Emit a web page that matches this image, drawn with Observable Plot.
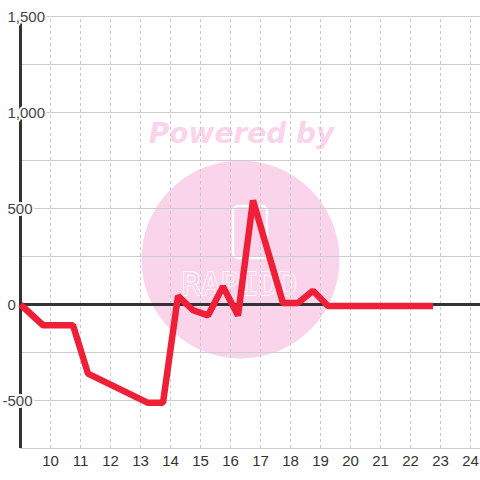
<!DOCTYPE html>
<html>
<head>
<meta charset="utf-8">
<script src="https://cdn.jsdelivr.net/npm/d3@7"></script>
<script src="https://cdn.jsdelivr.net/npm/@observablehq/plot@0.6"></script>
<style>
  html, body { margin: 0; padding: 0; background: #fff; }
  #chart { width: 480px; height: 480px; }
</style>
</head>
<body>
<div id="chart"></div>
<script>
// Data
const hours = [9, 9.75, 10.75, 11.25, 13.25, 13.75, 14.25, 14.75, 15.25, 15.75, 16.25, 16.75, 17.75, 18.25, 18.75, 19.25, 22.75];
const values = [0, -108, -108, -360, -512, -512, 45, -30, -57, 94, -58, 542, 8, 8, 72, -8, -8];
const xTicks = [10, 11, 12, 13, 14, 15, 16, 17, 18, 19, 20, 21, 22, 23, 24];
const yTicks = [-500, 0, 500, 1000, 1500];
const yTickLabels = ["-500", "0", "500", "1,000", "1,500"];
const yGrid = [-750, -500, -250, 0, 250, 500, 750, 1000, 1250, 1500];
const watermarkTitle = ["Powered by"];
const watermarkLogo = ["RAPIDD"];

const xMin = 9, xMax = 24.333;
const yMin = -750, yMax = 1500;

const data = hours.map((h, i) => ({h, v: values[i]}));
const yLab = yTicks.map((v, i) => ({v, label: yTickLabels[i]}));

const pink = "#fad4ea";
const font = "Liberation Sans, Arial, sans-serif";

const chart = Plot.plot({
  width: 480,
  height: 480,
  marginLeft: 20,
  marginRight: 0,
  marginTop: 16,
  marginBottom: 32,
  x: {domain: [xMin, xMax], axis: null},
  y: {domain: [yMin, yMax], axis: null},
  style: {fontFamily: font, background: "#fff", overflow: "visible"},
  marks: [
    // watermark
    Plot.dot([0], {frameAnchor: "middle", dx: -10, dy: 27, r: 99, fill: pink, stroke: "none"}),
    Plot.text(watermarkTitle, {frameAnchor: "middle", dx: -9, dy: -98, text: d => d, fill: pink,
      fontSize: 28, fontWeight: "bold", fontStyle: "italic", fontFamily: "DejaVu Sans, sans-serif"}),
    Plot.rect([0], {x1: () => 16.1, x2: () => 17.23, y1: () => 240, y2: () => 510,
      fill: "none", stroke: "#fff", strokeWidth: 2.5, rx: 5}),
    Plot.text(watermarkLogo, {frameAnchor: "middle", dx: -11, dy: 52, text: d => d, fill: pink,
      stroke: "#fff", strokeWidth: 1.6, fontSize: 32, fontWeight: 300, letterSpacing: "3px", fontFamily: "DejaVu Sans Mono, monospace"}),
    // grid
    Plot.ruleY(yGrid, {x1: xMin, x2: xMax, stroke: "#cccccc", strokeWidth: 1}),
    Plot.ruleX(xTicks, {y1: yMin, y2: yMax, stroke: "#c8c8c8", strokeWidth: 1, strokeDasharray: "3,3"}),
    // axis lines
    Plot.ruleY([0], {x1: xMin, x2: xMax, stroke: "#333", strokeWidth: 3}),
    Plot.ruleX([xMin], {y1: yMin, y2: yMax, stroke: "#333", strokeWidth: 3}),
    // series
    Plot.line(data, {x: "h", y: "v", stroke: "#ee1f36", strokeWidth: 6.5, strokeLinejoin: "miter", strokeLinecap: "butt"}),
    // y labels
    Plot.text(yLab.filter(d => d.v >= 0), {x: () => xMin, y: "v", text: "label", textAnchor: "start", dx: -13, dy: 1,
      fill: "#444", fontSize: 15, stroke: "#fff", strokeWidth: 4, fontFamily: font}),
    Plot.text(yLab.filter(d => d.v < 0), {x: () => xMin, y: "v", text: "label", textAnchor: "start", dx: -18, dy: 1,
      fill: "#444", fontSize: 15, stroke: "#fff", strokeWidth: 4, fontFamily: font}),
    // x labels
    Plot.text(xTicks, {x: d => d, y: () => yMin, text: d => String(d), dy: 13, fill: "#333", fontSize: 15, fontFamily: font})
  ]
});
document.getElementById("chart").appendChild(chart);
</script>
</body>
</html>
